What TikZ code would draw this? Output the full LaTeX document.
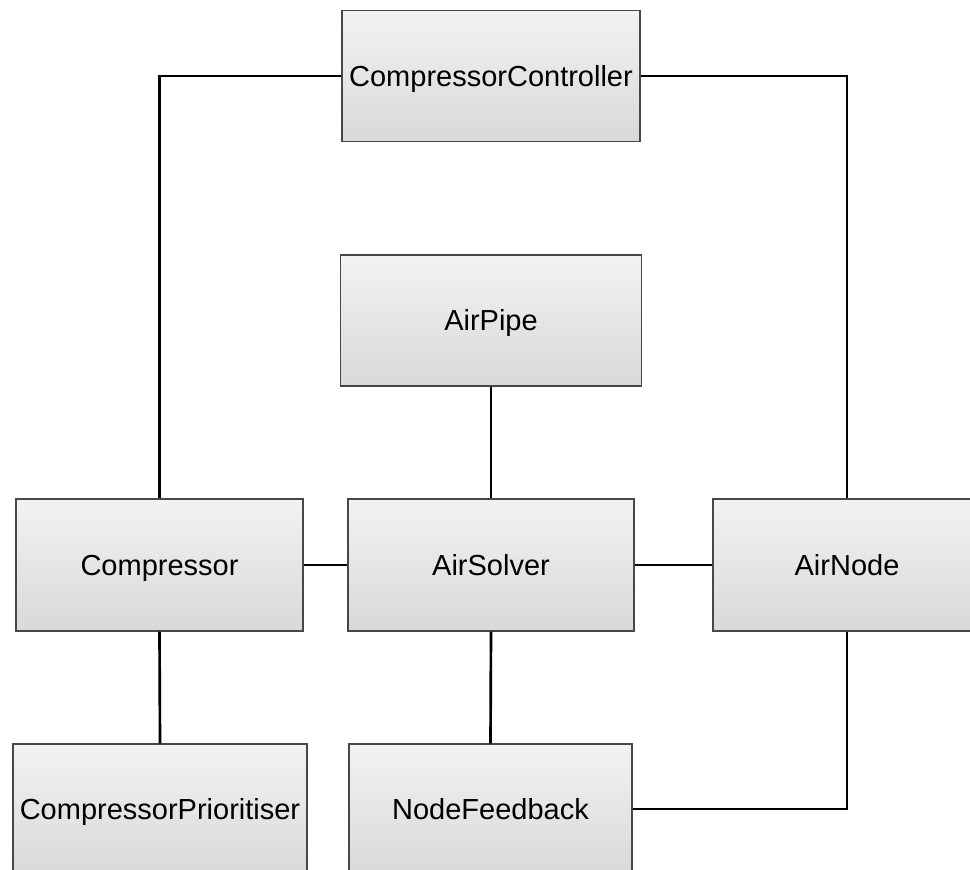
\documentclass[tikz,border=0pt]{standalone}
\usepackage{fontspec}
\setmainfont{Liberation Sans}
\begin{document}
\begin{tikzpicture}[x=0.75pt,y=-0.75pt,
  box/.style={draw=black!72, line width=1pt, top color=black!5, bottom color=black!15,
    inner sep=0pt, text height=15.57pt, text depth=0pt,
    font=\fontsize{21.75}{26}\selectfont},
  link/.style={draw=black, line width=2pt}]
  \useasboundingbox (0,0) rectangle (970,870);
  \clip (0,0) rectangle (970,870);
  \fill[white] (0,0) rectangle (970,870);

  % class boxes
  \node[box, minimum width=223.5pt, minimum height=98.3pt] (ctrl) at (491,76) {CompressorController};
  \node[box, minimum width=225.8pt, minimum height=98.3pt] (pipe) at (491,320.5) {AirPipe};
  \node[box, minimum width=215.3pt, minimum height=99pt] (comp) at (159.5,565) {Compressor};
  \node[box, minimum width=214.5pt, minimum height=99pt] (solver) at (491,565) {AirSolver};
  \node[box, minimum width=201pt, minimum height=99pt] (anode) at (847,565) {AirNode};
  \node[box, minimum width=220.5pt, minimum height=97.5pt] (prio) at (160,809) {CompressorPrioritiser};
  \node[box, minimum width=212.3pt, minimum height=97.5pt] (feed) at (490.5,809) {NodeFeedback};

  % associations
  \draw[link] (ctrl.west) -| (comp.north);
  \draw[link] (ctrl.east) -| (anode.north);
  \draw[link] (pipe.south) -- (solver.north);
  \draw[link] (comp.east) -- (solver.west);
  \draw[link] (solver.east) -- (anode.west);
  \draw[link] (comp.south) -- (prio.north);
  \draw[link] (solver.south) -- (feed.north);
  \draw[link] (feed.east) -| (anode.south);
\end{tikzpicture}
\end{document}
